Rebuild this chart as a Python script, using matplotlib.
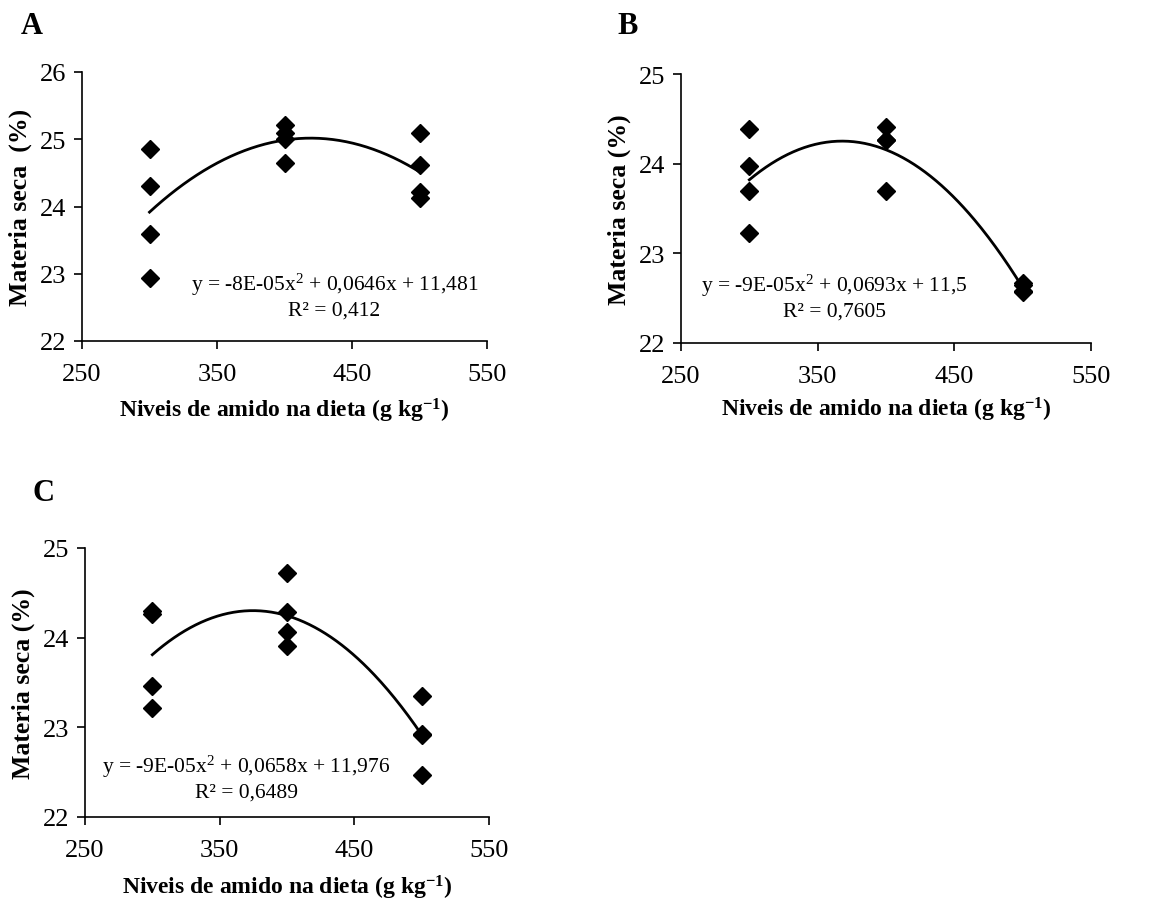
import numpy as np
import matplotlib
matplotlib.use("Agg")
import matplotlib.pyplot as plt

plt.rcParams['font.family'] = ['Liberation Serif', 'DejaVu Serif']
plt.rcParams['mathtext.fontset'] = 'custom'
plt.rcParams['mathtext.rm'] = 'Liberation Serif'
plt.rcParams['mathtext.bf'] = 'Liberation Serif:bold'
plt.rcParams['mathtext.default'] = 'bf'

# ---- data ----
levels_A = [300, 300, 300, 300, 400, 400, 400, 400, 500, 500, 500, 500]
dm_A = [24.85, 24.30, 23.585, 22.93, 25.21, 25.09, 24.65, 25.0, 25.10, 24.61, 24.22, 24.13]

levels_B = [300, 300, 300, 300, 400, 400, 400, 400, 500, 500, 500, 500]
dm_B = [24.39, 23.97, 23.69, 23.23, 24.41, 24.26, 24.26, 23.69, 22.67, 22.65, 22.57, 22.58]

levels_C = [300, 300, 300, 300, 400, 400, 400, 400, 500, 500, 500, 500]
dm_C = [24.30, 24.26, 23.46, 23.22, 24.72, 24.29, 24.06, 23.91, 23.35, 22.92, 22.93, 22.47]

eq_A = [r"y = -8E-05x$^{\mathrm{2}}$ + 0,0646x + 11,481", "R\u00b2 = 0,412"]
eq_B = [r"y = -9E-05x$^{\mathrm{2}}$ + 0,0693x + 11,5", "R\u00b2 = 0,7605"]
eq_C = [r"y = -9E-05x$^{\mathrm{2}}$ + 0,0658x + 11,976", "R\u00b2 = 0,6489"]

xticks = [250, 350, 450, 550]
yticks_A = [22, 23, 24, 25, 26]
yticks_BC = [22, 23, 24, 25]

ylab_A = "Materia seca  (%)"
ylab_BC = "Materia seca (%)"
xlab = r"Niveis de amido na dieta (g kg$^{-1}$)"

W, H = 1173, 904
fig = plt.figure(figsize=(W / 100, H / 100), dpi=100)


def px_axes(l, t, r, b):
    return fig.add_axes([l / W, 1 - b / H, (r - l) / W, (b - t) / H])


def panel(ax, x, y, yticks, ylab, eq, eqpos, xlab_y, letter, letter_pos):
    ax.plot(x, y, linestyle='none', marker='D', markersize=9, color='black', zorder=3)
    coef = np.polyfit(x, y, 2)
    xs = np.linspace(min(x), max(x), 200)
    ax.plot(xs, np.polyval(coef, xs), color='black', linewidth=2.0, zorder=2)
    ax.set_xlim(250, 550)
    ax.set_ylim(yticks[0], yticks[-1])
    ax.set_xticks(xticks)
    ax.set_yticks(yticks)
    for s in ['top', 'right']:
        ax.spines[s].set_visible(False)
    for s in ['left', 'bottom']:
        ax.spines[s].set_linewidth(1.2)
    ax.tick_params(direction='out', length=6, width=1.2, labelsize=19)
    ax.tick_params(axis='x', pad=10)
    ax.tick_params(axis='y', pad=5)
    bb = ax.get_position()
    hpx = bb.height * H
    wpx = bb.width * W
    ax.text(-62 / wpx, 0.5, ylab, rotation=90, ha='center', va='center',
            transform=ax.transAxes, fontsize=18.5, fontweight='bold')
    ax.text(0.5, xlab_y / hpx, xlab, ha='center', va='center',
            transform=ax.transAxes, fontsize=17, fontweight='bold')
    ax.text(eqpos[0], eqpos[1], eq[0] + "\n" + eq[1], ha='center', va='center',
            transform=ax.transData, fontsize=15.5, linespacing=1.25)
    fig.text(letter_pos[0] / W, 1 - letter_pos[1] / H, letter, ha='center', va='center',
             fontsize=22, fontweight='bold')


axA = px_axes(82, 73, 487, 342)
panel(axA, levels_A, dm_A, yticks_A, ylab_A, eq_A, (437, 22.68), -69, "A", (32, 27))

axB = px_axes(681, 75, 1091, 344)
panel(axB, levels_B, dm_B, yticks_BC, ylab_BC, eq_B, (362, 22.52), -66, "B", (628, 27))

axC = px_axes(85, 549, 489, 818)
panel(axC, levels_C, dm_C, yticks_BC, ylab_BC, eq_C, (370, 22.44), -70, "C", (43, 494))

fig.savefig("out.png", dpi=100)
